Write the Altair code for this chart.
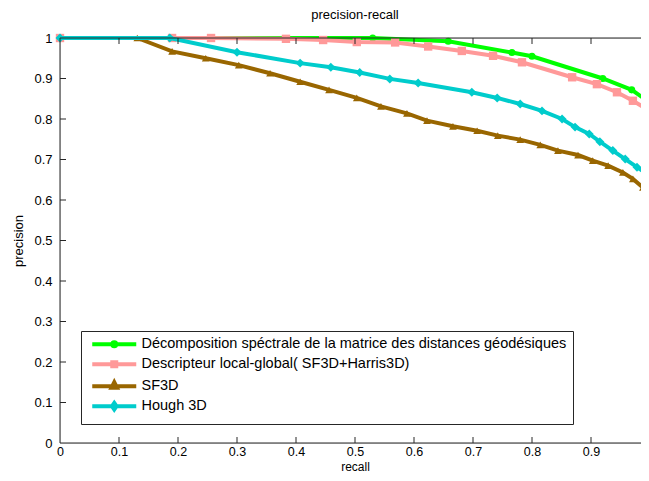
import altair as alt
import pandas as pd

SERIES = [
    "Décomposition spéctrale de la matrice des distances géodésiques",
    "Descripteur local-global( SF3D+Harris3D)",
    "SF3D",
    "Hough 3D",
]
COLORS = ["#00ff00", "#ff9999", "#996600", "#00cccc"]
SHAPES = ["circle", "square", "triangle-up", "diamond"]
MARKER_SIZES = [50, 70, 60, 80]

green_recall = [0.0, 0.53, 0.658, 0.766, 0.8, 0.92, 0.969, 1.0]
green_precision = [1.0, 1.0, 0.992, 0.964, 0.955, 0.9, 0.872, 0.84]

pink_recall = [0.0, 0.19, 0.256, 0.383, 0.446, 0.503, 0.568, 0.624, 0.681, 0.734,
               0.783, 0.868, 0.91, 0.944, 0.971, 1.0]
pink_precision = [1.0, 1.0, 1.0, 0.998, 0.995, 0.99, 0.989, 0.979, 0.968, 0.956,
                  0.94, 0.903, 0.886, 0.866, 0.845, 0.82]

brown_recall = [0.131, 0.19, 0.247, 0.303, 0.356, 0.407, 0.456, 0.503, 0.544, 0.588,
                0.622, 0.666, 0.707, 0.742, 0.78, 0.814, 0.844, 0.878, 0.903, 0.929,
                0.954, 0.971, 0.988, 1.0]
brown_precision = [1.0, 0.967, 0.95, 0.933, 0.913, 0.892, 0.872, 0.852, 0.831, 0.814,
                   0.796, 0.782, 0.771, 0.759, 0.749, 0.736, 0.722, 0.711, 0.697, 0.685,
                   0.668, 0.652, 0.631, 0.61]

cyan_recall = [0.0, 0.186, 0.3, 0.407, 0.459, 0.508, 0.559, 0.607, 0.698, 0.741,
               0.78, 0.817, 0.851, 0.873, 0.897, 0.915, 0.937, 0.958, 0.978, 0.995, 1.0]
cyan_precision = [1.0, 1.0, 0.965, 0.938, 0.928, 0.915, 0.899, 0.889, 0.866, 0.852,
                  0.837, 0.82, 0.8, 0.78, 0.763, 0.744, 0.722, 0.701, 0.681, 0.664, 0.652]

AXIS_TICKS = [0, 0.1, 0.2, 0.3, 0.4, 0.5, 0.6, 0.7, 0.8, 0.9, 1]
INNER_TICKS = [0.1, 0.2, 0.3, 0.4, 0.5, 0.6, 0.7, 0.8, 0.9]

# legend symbols: line + marker (unit = sqrt(size)/2 px = 5 px)
LEGEND_PATHS = [
    "M-4.4,0H4.4M0.4,0A0.4,0.4,0,1,1,-0.4,0A0.4,0.4,0,1,1,0.4,0Z",
    "M-4.4,0H4.4M-0.4,-0.4H0.4V0.4H-0.4Z",
    "M-4.4,0H4.4M0,-0.8L0.55,0.3H-0.55Z",
    "M-4.4,0H4.4M0,-0.65L0.45,0L0,0.65L-0.45,0Z",
]

W, H = 590, 405
TICK = 6
FONT = "Liberation Sans"
FRAME = "#262626"

xscale = alt.Scale(domain=[0, 1], nice=False, zero=False)
yscale = alt.Scale(domain=[0, 1], nice=False, zero=False)

series_data = [
    (green_recall, green_precision),
    (pink_recall, pink_precision),
    (brown_recall, brown_precision),
    (cyan_recall, cyan_precision),
]

layers = []
for i, (rec, prec) in enumerate(series_data):
    df = pd.DataFrame({"recall": rec, "precision": prec})
    base = alt.Chart(df)
    if i == 0:
        x = alt.X("recall:Q", scale=xscale,
                  axis=alt.Axis(values=AXIS_TICKS, title="recall", titleY=30,
                                titleBaseline="bottom", titleFontSize=12,
                                labelFontSize=12.5, labelPadding=2))
        y = alt.Y("precision:Q", scale=yscale,
                  axis=alt.Axis(values=AXIS_TICKS, title="precision"))
    else:
        x = alt.X("recall:Q", scale=xscale)
        y = alt.Y("precision:Q", scale=yscale)
    line = base.mark_line(color=COLORS[i], strokeWidth=4).encode(x=x, y=y)
    pts = base.mark_point(filled=True, shape=SHAPES[i], size=MARKER_SIZES[i],
                          color=COLORS[i], opacity=1).encode(
        x=alt.X("recall:Q", scale=xscale),
        y=alt.Y("precision:Q", scale=yscale))
    layers += [line, pts]

# inner tick marks (MATLAB box style)
xt = alt.Chart(pd.DataFrame({"recall": INNER_TICKS}))
yt = alt.Chart(pd.DataFrame({"precision": INNER_TICKS}))
tx = alt.X("recall:Q", scale=xscale)
ty = alt.Y("precision:Q", scale=yscale)
layers += [
    xt.mark_rule(color=FRAME, strokeWidth=1).encode(x=tx, y=alt.value(H), y2=alt.value(H - TICK)),
    xt.mark_rule(color=FRAME, strokeWidth=1).encode(x=tx, y=alt.value(0), y2=alt.value(TICK)),
    yt.mark_rule(color=FRAME, strokeWidth=1).encode(y=ty, x=alt.value(0), x2=alt.value(TICK)),
    yt.mark_rule(color=FRAME, strokeWidth=1).encode(y=ty, x=alt.value(W), x2=alt.value(W - TICK)),
]

# axes box (left, top, bottom edges; right edge lies just outside the picture)
frame_src = alt.Chart(pd.DataFrame({"edge": ["frame"]}))
layers += [
    frame_src.mark_rule(color=FRAME, strokeWidth=1).encode(x=alt.value(0), x2=alt.value(W), y=alt.value(0)),
    frame_src.mark_rule(color=FRAME, strokeWidth=1).encode(x=alt.value(0), x2=alt.value(W), y=alt.value(H)),
    frame_src.mark_rule(color=FRAME, strokeWidth=1).encode(x=alt.value(0), y=alt.value(0), y2=alt.value(H)),
]

# legend-only layer
leg_df = pd.DataFrame({"series": SERIES, "recall": [0.0] * 4, "precision": [1.0] * 4})
legend_layer = alt.Chart(leg_df).mark_point(filled=True, size=100, strokeWidth=4, opacity=1).encode(
    x=alt.X("recall:Q", scale=xscale),
    y=alt.Y("precision:Q", scale=yscale),
    color=alt.Color("series:N", scale=alt.Scale(domain=SERIES, range=COLORS), title=None),
    stroke=alt.Stroke("series:N", scale=alt.Scale(domain=SERIES, range=COLORS), title=None),
    shape=alt.Shape("series:N", scale=alt.Scale(domain=SERIES, range=LEGEND_PATHS), title=None),
).transform_filter("false")
layers.append(legend_layer)

chart = alt.layer(*layers).properties(
    width=W, height=H,
    title=alt.TitleParams("precision-recall", fontSize=13, fontWeight="normal", font=FONT,
                          color="#000000", offset=8),
    autosize=alt.AutoSizeParams(type="none"),
    padding={"left": 52, "top": 30, "right": -9, "bottom": 30},
).configure_view(
    stroke=None, fill="white"
).configure(
    background="white"
).configure_axis(
    domain=False, ticks=False, tickSize=0, grid=False,
    labelFont=FONT, labelFontSize=13, labelColor="#000000",
    titleFont=FONT, titleFontSize=13, titleFontWeight="normal", titleColor="#000000",
    labelFlush=False, labelOverlap=False, labelBound=False, format=".1~f",
).configure_axisY(
    labelPadding=8, titlePadding=8
).configure_legend(
    orient="none", legendX=21, legendY=293,
    strokeColor=FRAME, fillColor="white", padding=6,
    labelFont=FONT, labelFontSize=14.5, labelColor="#000000", labelLimit=0,
    symbolSize=100, symbolStrokeWidth=4, symbolOffset=20, labelOffset=20,
    rowPadding=-1,
)

chart.save("out.html", embed_options={"renderer": "svg", "actions": False})
